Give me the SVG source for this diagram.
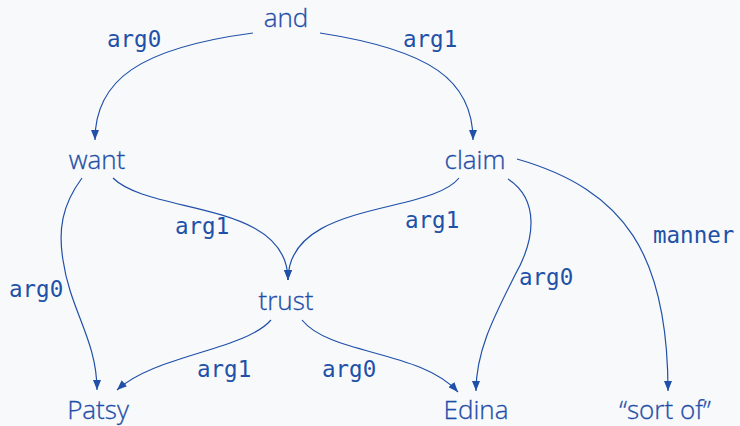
<svg xmlns="http://www.w3.org/2000/svg" width="740" height="426" viewBox="0 0 740 426">
  <defs>
    <marker id="arrow" markerUnits="userSpaceOnUse" markerWidth="10" markerHeight="8" refX="10" refY="4" orient="auto">
      <path d="M0,0 L10,4 L0,8 z" fill="#2050a8"/>
    </marker>
    <style>
      .node text { font-family: "Open Sans", "Noto Sans", sans-serif; font-weight: 300; font-size: 26px; fill: #1f4ea8; text-anchor: middle; stroke: #1f4ea8; stroke-width: 0.3; }
      .edge path { fill: none; stroke: #2050a8; stroke-width: 1.2; marker-end: url(#arrow); }
      .edge text { font-family: "DejaVu Sans Mono", "Liberation Mono", monospace; font-size: 22.5px; fill: #2050a8; }
    </style>
  </defs>
  <rect width="740" height="426" fill="#f8f9fb"/>

  <g id="edges" class="edge">
    <path d="M253,33 C140,48 95,80 95,140"/>
    <text x="107" y="47">arg0</text>
    <path d="M320,33 C430,50 473,80 473,140"/>
    <text x="403" y="47">arg1</text>
    <path d="M82,178 C62,205 58,230 63,260 C70,310 97,340 97,390"/>
    <text x="9" y="297">arg0</text>
    <path d="M113,178 C150,215 288,200 288,280"/>
    <text x="175" y="234">arg1</text>
    <path d="M459,178 C430,215 288,200 288,280"/>
    <text x="405" y="228">arg1</text>
    <path d="M508,179 C540,200 535,240 515,275 C495,315 476,350 476,391"/>
    <text x="519" y="285">arg0</text>
    <path d="M517,159 C625,190 668,255 668,391"/>
    <text x="653" y="243">manner</text>
    <path d="M271,320 C245,350 155,355 117,390"/>
    <text x="197" y="377">arg1</text>
    <path d="M302,320 C330,355 420,350 458,392"/>
    <text x="322" y="377">arg0</text>
  </g>

  <g id="and" class="node"><text x="286" y="27">and</text></g>
  <g id="want" class="node"><text x="97" y="169">want</text></g>
  <g id="claim" class="node"><text x="475" y="169">claim</text></g>
  <g id="trust" class="node"><text x="286" y="310">trust</text></g>
  <g id="patsy" class="node"><text x="98" y="419">Patsy</text></g>
  <g id="edina" class="node"><text x="476" y="419">Edina</text></g>
  <g id="sort-of" class="node"><text x="665" y="419">“sort of”</text></g>
</svg>
